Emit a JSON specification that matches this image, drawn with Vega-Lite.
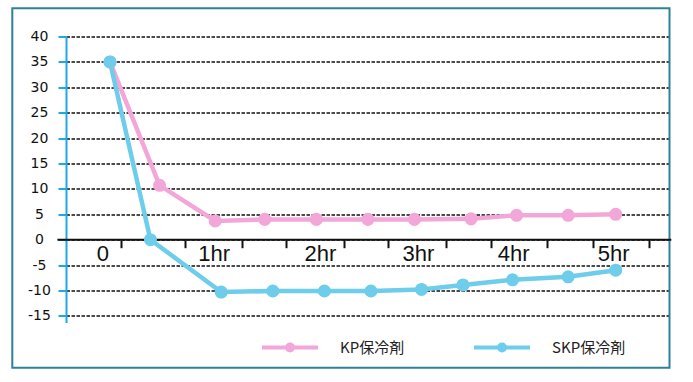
{
  "$schema": "https://vega.github.io/schema/vega-lite/v6.json",
  "width": 603,
  "height": 286,
  "autosize": {"type": "none"},
  "padding": {"left": 66, "top": 36.5, "right": 24, "bottom": 59.5},
  "background": "white",
  "datasets": {
    "series": [
      {"series": "KP保冷剤", "t": 0, "v": 35},
      {"series": "KP保冷剤", "t": 0.49, "v": 10.7},
      {"series": "KP保冷剤", "t": 1.04, "v": 3.7},
      {"series": "KP保冷剤", "t": 1.53, "v": 4.0},
      {"series": "KP保冷剤", "t": 2.04, "v": 4.0},
      {"series": "KP保冷剤", "t": 2.55, "v": 4.0},
      {"series": "KP保冷剤", "t": 3.01, "v": 4.0},
      {"series": "KP保冷剤", "t": 3.57, "v": 4.1},
      {"series": "KP保冷剤", "t": 4.02, "v": 4.8},
      {"series": "KP保冷剤", "t": 4.53, "v": 4.8},
      {"series": "KP保冷剤", "t": 5.0, "v": 5.0},
      {"series": "SKP保冷剤", "t": 0, "v": 35},
      {"series": "SKP保冷剤", "t": 0.4, "v": 0},
      {"series": "SKP保冷剤", "t": 1.1, "v": -10.3},
      {"series": "SKP保冷剤", "t": 1.61, "v": -10.1},
      {"series": "SKP保冷剤", "t": 2.12, "v": -10.1},
      {"series": "SKP保冷剤", "t": 2.58, "v": -10.1},
      {"series": "SKP保冷剤", "t": 3.08, "v": -9.8},
      {"series": "SKP保冷剤", "t": 3.49, "v": -8.9},
      {"series": "SKP保冷剤", "t": 3.98, "v": -7.9},
      {"series": "SKP保冷剤", "t": 4.53, "v": -7.3},
      {"series": "SKP保冷剤", "t": 5.0, "v": -6.0}
    ],
    "xlabels": [
      {"lab": "0", "t": -0.07},
      {"lab": "1hr", "t": 1.03},
      {"lab": "2hr", "t": 2.08},
      {"lab": "3hr", "t": 3.05},
      {"lab": "4hr", "t": 3.99},
      {"lab": "5hr", "t": 4.98}
    ]
  },
  "layer": [
    {
      "data": {"values": [{}]},
      "mark": {"type": "rect", "fill": null, "stroke": "#2f819b", "strokeWidth": 2},
      "encoding": {
        "x": {"datum": -0.966, "type": "quantitative", "scale": {"domain": [-0.435, 5.527], "nice": false, "zero": false}, "axis": {
          "orient": "bottom", "offset": -82.8, "values": [0.106, 0.742, 1.305, 1.74, 2.314, 2.752, 3.319, 3.764, 4.324, 4.773, 5.332],
          "tickCount": 20,
          "labels": false, "domain": false, "grid": false, "ticks": true, "tickSize": 8, "tickWidth": 2, "tickColor": "#111111", "title": null
        }},
        "x2": {"datum": 5.532},
        "y": {"datum": 45.55, "type": "quantitative", "scale": {"domain": [-16.3, 40], "nice": false, "zero": false}, "axis": {
          "values": [40, 35, 30, 25, 20, 15, 10, 5, 0, -5, -10, -15],
          "tickCount": 20,
          "title": null, "domain": true, "domainColor": "#1ea9e6", "domainWidth": 2,
          "ticks": true, "tickColor": "#1ea9e6", "tickWidth": 2, "tickSize": 8,
          "labelAlign": "center", "labelPadding": 19, "labelFont": "DejaVu Sans", "labelFontSize": 14, "labelColor": "#111111",
          "labelOverlap": false, "labelBound": false, "labelFlush": false,
          "labelExpr": "replace(datum.label, '\u2212', '-')",
          "grid": true, "gridColor": "#111111", "gridDash": [3.5, 1.5], "gridWidth": 1.5
        }},
        "y2": {"datum": -25.2}
      }
    },
    {
      "data": {"values": [{}]},
      "mark": {"type": "rule", "color": "#111111", "strokeWidth": 2},
      "encoding": {
        "x": {"datum": -0.52, "type": "quantitative"},
        "x2": {"datum": 5.55},
        "y": {"datum": 0, "type": "quantitative"}
      }
    },
    {
      "data": {"name": "xlabels"},
      "mark": {"type": "text", "font": "Liberation Sans", "fontSize": 22, "color": "#111111", "baseline": "alphabetic", "align": "center", "dy": 21.5},
      "encoding": {
        "x": {"field": "t", "type": "quantitative"},
        "y": {"datum": 0, "type": "quantitative"},
        "text": {"field": "lab"}
      }
    },
    {
      "data": {"name": "series"},
      "mark": {"type": "line", "strokeWidth": 4.5, "point": {"filled": true, "size": 170, "opacity": 1}},
      "encoding": {
        "x": {"field": "t", "type": "quantitative"},
        "y": {"field": "v", "type": "quantitative"},
        "color": {
          "field": "series", "type": "nominal",
          "scale": {"domain": ["KP保冷剤", "SKP保冷剤"], "range": ["#f3a6d8", "#6dcdea"]},
          "legend": {
            "title": null, "orient": "none", "direction": "horizontal", "columns": 2,
            "legendX": 194, "legendY": 281,
            "symbolType": "M-1,0H1M0.107,0A0.107,0.107,0,1,1,-0.107,0A0.107,0.107,0,1,1,0.107,0M0.05,0A0.05,0.05,0,1,1,-0.05,0A0.05,0.05,0,1,1,0.05,0",
            "symbolSize": 3136, "symbolStrokeWidth": 4, "symbolOpacity": 1,
            "labelFont": "Noto Sans CJK JP", "labelFontSize": 15, "labelColor": "#222222", "labelOffset": 20,
            "columnPadding": 61, "padding": 0,
            "encode": {"symbols": {"update": {"fill": {"scale": "color", "field": "value"}, "stroke": {"scale": "color", "field": "value"}}}}
          }
        },
        "order": {"field": "t"}
      }
    }
  ],
  "config": {"view": {"stroke": null}}
}
